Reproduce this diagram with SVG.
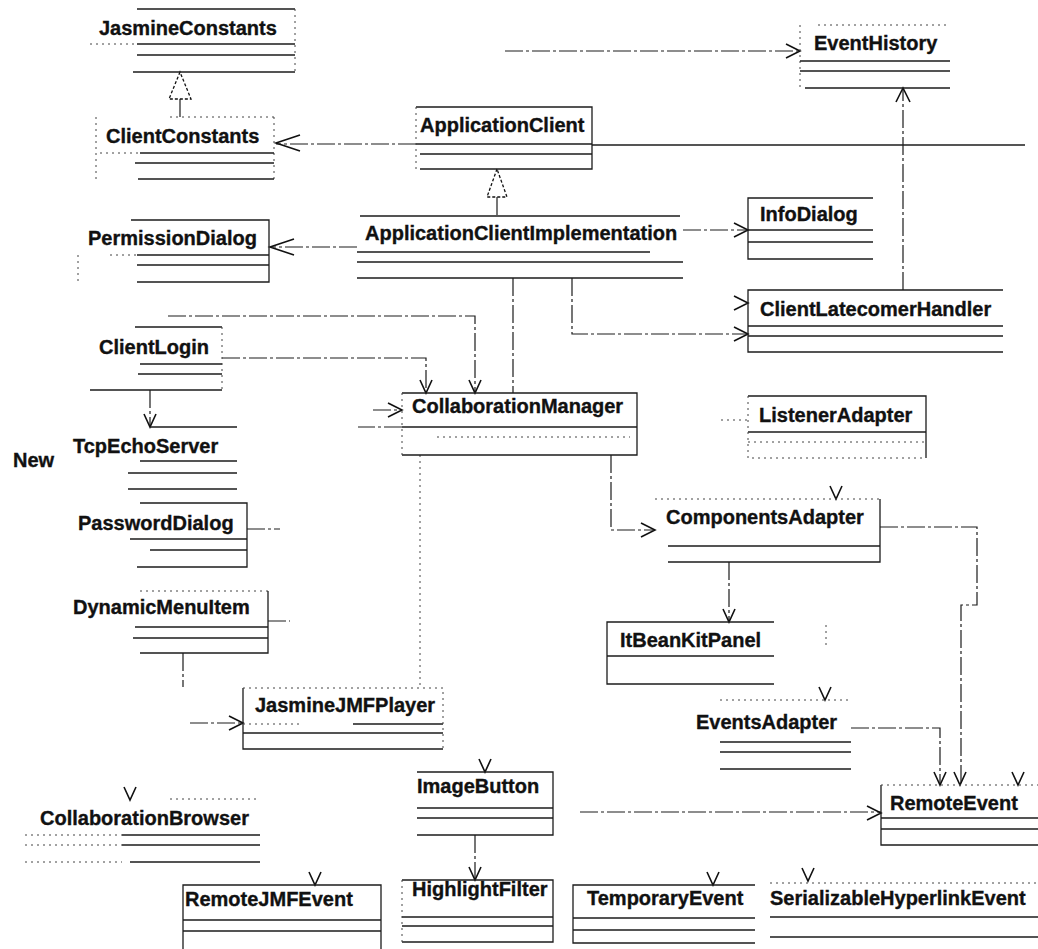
<svg xmlns="http://www.w3.org/2000/svg" width="1038" height="949" viewBox="0 0 1038 949">
  <style>
    .t { font-family: "Liberation Sans", Arial, Helvetica, sans-serif; font-weight: bold; font-size: 20px; fill: #111; stroke: #111; stroke-width: 0.35; }
    .ln { stroke: #1c1c1c; stroke-width: 1.3; fill: none; }
    .fb { stroke: #444; stroke-width: 1; fill: none; stroke-dasharray: 2 4; }
    .cn { stroke: #1c1c1c; stroke-width: 1.2; fill: none; stroke-dasharray: 18 3 3 3; }
    .ah { stroke: #111; stroke-width: 1.6; fill: none; stroke-linejoin: miter; }
    .tri { stroke: #111; stroke-width: 1.3; fill: #fff; stroke-dasharray: 3 2; }
  </style>
  <defs>
    <!-- open arrowheads, tip at the origin -->
    <path id="ahD" class="ah" d="M-6,-13 L0,0 L6,-13"/>
    <path id="ahU" class="ah" d="M-7,14 L0,0 L7,14"/>
    <path id="ahR" class="ah" d="M-14,-7 L0,0 L-14,7"/>
    <path id="ahL" class="ah" d="M24,-8 L0,0 L24,8"/>
  </defs>
  <rect width="1038" height="949" fill="#fff"/>

  <!-- connectors -->
  <g id="connectors">
    <!-- to EventHistory from the left -->
    <path class="cn" d="M505,51 H800"/>
    <use href="#ahR" x="800" y="51"/>
    <!-- ClientLatecomerHandler to EventHistory -->
    <path class="cn" d="M903,290 V88"/>
    <use href="#ahU" x="903" y="88"/>
    <!-- ApplicationClient to ClientConstants -->
    <path class="cn" d="M416,144 H276"/>
    <use href="#ahL" x="276" y="143"/>
    <!-- ApplicationClient to the right edge -->
    <path class="ln" d="M592,145 H1025"/>
    <!-- ApplicationClient realized by ApplicationClientImplementation -->
    <path class="tri" d="M497,169 L487,197 L507,197 Z"/>
    <path class="cn" d="M497,197 V216"/>
    <!-- ClientConstants realizes JasmineConstants -->
    <path class="tri" d="M180,72 L169,99 L191,99 Z"/>
    <path class="cn" d="M180,99 V117"/>
    <!-- ApplicationClientImplementation to PermissionDialog -->
    <path class="cn" d="M357,247 H271"/>
    <use href="#ahL" x="270" y="247"/>
    <!-- ApplicationClientImplementation to InfoDialog -->
    <path class="cn" d="M683,230 H748"/>
    <use href="#ahR" x="748" y="230"/>
    <!-- ApplicationClientImplementation to ClientLatecomerHandler -->
    <path class="cn" d="M572,278 V334 H748"/>
    <use href="#ahR" x="748" y="334"/>
    <use href="#ahR" x="748" y="303"/>
    <!-- ApplicationClientImplementation to CollaborationManager -->
    <path class="cn" d="M513,278 V393"/>
    <path class="cn" d="M168,316 H475 V393"/>
    <use href="#ahD" x="475" y="393"/>
    <!-- ClientLogin to CollaborationManager -->
    <path class="cn" d="M222,358 H426 V393"/>
    <use href="#ahD" x="426" y="393"/>
    <path class="cn" d="M373,410 H402"/>
    <use href="#ahR" x="402" y="410"/>
    <path class="cn" d="M402,427 H358"/>
    <!-- ClientLogin to TcpEchoServer -->
    <path class="cn" d="M150,390 V427"/>
    <use href="#ahD" x="150" y="427"/>
    <!-- short stubs on the left column -->
    <path class="cn" d="M247,529 H280"/>
    <path class="cn" d="M268,621 H290"/>
    <path class="cn" d="M183,653 V687"/>
    <!-- to JasmineJMFPlayer -->
    <path class="cn" d="M190,723 H243"/>
    <use href="#ahR" x="243" y="723"/>
    <path class="fb" d="M420,455 V688"/>
    <!-- CollaborationManager to ComponentsAdapter -->
    <path class="cn" d="M611,455 V530 H655"/>
    <use href="#ahR" x="655" y="530"/>
    <!-- to ListenerAdapter -->
    <path class="fb" d="M721,420 H748"/>
    <!-- ComponentsAdapter to ItBeanKitPanel -->
    <path class="cn" d="M729,562 V622"/>
    <use href="#ahD" x="729" y="622"/>
    <path class="fb" d="M826,625 V645"/>
    <!-- ComponentsAdapter to RemoteEvent -->
    <path class="cn" d="M880,527 H977 V605 H961 V785"/>
    <use href="#ahD" x="960" y="785"/>
    <!-- EventsAdapter to RemoteEvent -->
    <path class="cn" d="M851,728 H940 V785"/>
    <use href="#ahD" x="940" y="785"/>
    <use href="#ahD" x="1018" y="785"/>
    <!-- to RemoteEvent from the left -->
    <path class="cn" d="M580,812 H881"/>
    <use href="#ahR" x="881" y="813"/>
    <!-- ImageButton to HighlightFilter -->
    <path class="cn" d="M475,835 V880"/>
    <use href="#ahD" x="475" y="880"/>
    <!-- arrowheads on class tops -->
    <use href="#ahD" x="836" y="499"/>
    <use href="#ahD" x="825" y="700"/>
    <use href="#ahD" x="485" y="772"/>
    <use href="#ahD" x="130" y="800"/>
    <use href="#ahD" x="315" y="885"/>
    <use href="#ahD" x="713" y="885"/>
    <use href="#ahD" x="808" y="881"/>
  </g>

  <g id="JasmineConstants">
    <path class="ln" d="M137,9 H295 M137,44 H295 M137,55 H295 M133,72 H295"/>
    <path class="fb" d="M90,44 H137 M295,9 V72"/>
    <text class="t" x="99" y="35">JasmineConstants</text>
  </g>

  <g id="ClientConstants">
    <path class="fb" d="M170,117 H274 M96,117 V179 M274,117 V179 M100,153 H140"/>
    <path class="ln" d="M140,153 H274 M135,163 H274 M138,179 H274"/>
    <text class="t" x="106" y="143">ClientConstants</text>
  </g>

  <g id="ApplicationClient">
    <path class="ln" d="M416,107 H592 V169 H420 M416,144 H592 M420,154 H592"/>
    <path class="fb" d="M416,107 V169"/>
    <text class="t" x="420" y="132">ApplicationClient</text>
  </g>

  <g id="EventHistory">
    <path class="fb" d="M818,25 H950 M800,25 V88"/>
    <path class="ln" d="M800,61 H950 M800,71 H950 M805,88 H950"/>
    <text class="t" x="814" y="50">EventHistory</text>
  </g>

  <g id="ApplicationClientImplementation">
    <path class="ln" d="M360,216 H680 M357,252 H650 M357,262 H683 M357,278 H683"/>
    <text class="t" x="365" y="240">ApplicationClientImplementation</text>
  </g>

  <g id="InfoDialog">
    <path class="ln" d="M873,198 H748 V259 H873 M748,230 H873 M748,242 H873"/>
    <text class="t" x="760" y="221">InfoDialog</text>
  </g>

  <g id="PermissionDialog">
    <path class="ln" d="M131,220 H269 V282 H137 M137,265 H269 M137,255 H269"/>
    <path class="fb" d="M78,255 V282 M110,255 H137"/>
    <text class="t" x="88" y="245">PermissionDialog</text>
  </g>

  <g id="ClientLatecomerHandler">
    <path class="ln" d="M1003,290 H748 V352 H1003 M748,326 H1003 M748,336 H1003"/>
    <text class="t" x="760" y="316">ClientLatecomerHandler</text>
  </g>

  <g id="ClientLogin">
    <path class="ln" d="M135,327 H222 M140,364 H222 M138,374 H222 M90,390 H222"/>
    <path class="fb" d="M222,327 V390"/>
    <text class="t" x="99" y="354">ClientLogin</text>
  </g>

  <g id="CollaborationManager">
    <path class="ln" d="M402,393 H637 V455 H402 M402,427 H637"/>
    <path class="fb" d="M402,393 V455 M437,437 H630"/>
    <text class="t" x="412" y="413">CollaborationManager</text>
  </g>

  <g id="ListenerAdapter">
    <path class="ln" d="M748,396 H926 V458 M748,432 H926"/>
    <path class="fb" d="M748,396 V458 H926 M748,442 H926"/>
    <text class="t" x="759" y="422">ListenerAdapter</text>
  </g>

  <g id="TcpEchoServer">
    <path class="ln" d="M150,427 H237 M140,461 H237 M128,473 H237 M128,489 H237"/>
    <text class="t" x="73" y="453">TcpEchoServer</text>
  </g>

  <g id="NewLabel">
    <text class="t" x="13" y="467">New</text>
  </g>

  <g id="PasswordDialog">
    <path class="ln" d="M140,503 H247 V567 H137 M130,539 H247 M150,550 H247"/>
    <text class="t" x="78" y="530">PasswordDialog</text>
  </g>

  <g id="DynamicMenuItem">
    <path class="fb" d="M140,591 H268"/>
    <path class="ln" d="M268,591 V653 H140 M135,627 H268 M133,638 H268"/>
    <text class="t" x="73" y="614">DynamicMenuItem</text>
  </g>

  <g id="ComponentsAdapter">
    <path class="ln" d="M880,499 V562 H668 M668,546 H880"/>
    <path class="fb" d="M655,499 H880"/>
    <text class="t" x="666" y="524">ComponentsAdapter</text>
  </g>

  <g id="ItBeanKitPanel">
    <path class="ln" d="M774,622 H607 V684 H774 M607,656 H774"/>
    <text class="t" x="620" y="647">ItBeanKitPanel</text>
  </g>

  <g id="JasmineJMFPlayer">
    <path class="ln" d="M243,688 V749 H443 M243,733 H443 M353,724 H443"/>
    <path class="fb" d="M243,688 H443 V749 M243,724 H300"/>
    <text class="t" x="255" y="712">JasmineJMFPlayer</text>
  </g>

  <g id="EventsAdapter">
    <path class="fb" d="M720,700 H851"/>
    <path class="ln" d="M720,742 H851 M720,752 H851 M720,769 H851"/>
    <text class="t" x="696" y="729">EventsAdapter</text>
  </g>

  <g id="ImageButton">
    <path class="ln" d="M417,772 H553 V835 H417 M417,808 H553 M417,818 H553"/>
    <text class="t" x="417" y="793">ImageButton</text>
  </g>

  <g id="CollaborationBrowser">
    <path class="fb" d="M170,799 H260 M25,835 H122 M25,845 H122 M25,862 H122"/>
    <path class="ln" d="M122,835 H260 M122,845 H260 M130,862 H260"/>
    <text class="t" x="40" y="825">CollaborationBrowser</text>
  </g>

  <g id="RemoteEvent">
    <path class="ln" d="M1038,845 H881 V785 M881,818 H1038 M881,829 H1038"/>
    <path class="fb" d="M881,785 H1038"/>
    <text class="t" x="890" y="810">RemoteEvent</text>
  </g>

  <g id="RemoteJMFEvent">
    <path class="ln" d="M183,949 V885 H381 V949 M183,920 H381 M183,931 H381"/>
    <text class="t" x="185" y="906">RemoteJMFEvent</text>
  </g>

  <g id="HighlightFilter">
    <path class="ln" d="M402,880 H553 V942 H402 M402,917 H553 M402,926 H553"/>
    <path class="fb" d="M402,880 V942"/>
    <text class="t" x="412" y="896">HighlightFilter</text>
  </g>

  <g id="TemporaryEvent">
    <path class="ln" d="M755,885 H573 V943 H755 M573,918 H755 M573,930 H755"/>
    <text class="t" x="587" y="905">TemporaryEvent</text>
  </g>

  <g id="SerializableHyperlinkEvent">
    <path class="fb" d="M770,883 H1038"/>
    <path class="ln" d="M770,917 H1038 M770,937 H1038"/>
    <text class="t" x="770" y="905">SerializableHyperlinkEvent</text>
  </g>
</svg>
